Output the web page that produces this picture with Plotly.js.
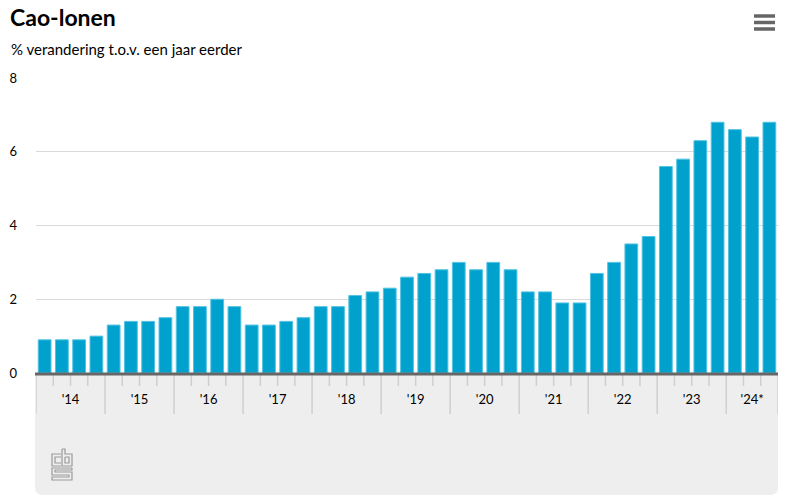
<!DOCTYPE html>
<html>
<head>
<meta charset="utf-8">
<script src="https://cdn.plot.ly/plotly-3.0.1.min.js"></script>
<style>html,body{margin:0;padding:0;background:#fff;}#chart{width:794px;height:499px;}</style>
</head>
<body>
<div id="chart"></div>
<script>
// Data
const years = ["'14", "'15", "'16", "'17", "'18", "'19", "'20", "'21", "'22", "'23", "'24*"];
const quartersPerYear = [4, 4, 4, 4, 4, 4, 4, 4, 4, 4, 3];
const values = [
  0.9, 0.9, 0.9, 1.0,
  1.3, 1.4, 1.4, 1.5,
  1.8, 1.8, 2.0, 1.8,
  1.3, 1.3, 1.4, 1.5,
  1.8, 1.8, 2.1, 2.2,
  2.3, 2.6, 2.7, 2.8,
  3.0, 2.8, 3.0, 2.8,
  2.2, 2.2, 1.9, 1.9,
  2.7, 3.0, 3.5, 3.7,
  5.6, 5.8, 6.3, 6.8,
  6.6, 6.4, 6.8
];
const yTicks = [0, 2, 4, 6, 8];

const W = 794, H = 499;
const M = {l: 36, r: 16, t: 78, b: 126};
const PW = W - M.l - M.r, PH = H - M.t - M.b;
const px = x => (x - M.l) / PW;          // pixel x -> paper
const py = y => (H - M.b - y) / PH;      // pixel y -> paper

const n = values.length;
const xs = values.map((_, i) => i);

// year centres and boundaries
const yearCenters = [], yearBounds = [-0.5];
let idx = 0;
quartersPerYear.forEach(q => {
  yearCenters.push(idx + (q - 1) / 2);
  idx += q;
  yearBounds.push(idx - 0.5);
});

const shapes = [];
// gray footer box with rounded bottom corners (paper coords)
const r = 8;
const bx0 = 35, bx1 = 778, by0 = 374, by1 = 495;
const rx = r / PW, ry = r / PH;
shapes.push({
  type: 'path', xref: 'paper', yref: 'paper', layer: 'below',
  path: `M${px(bx0)},${py(by0)} L${px(bx1)},${py(by0)} L${px(bx1)},${py(by1) + ry} Q${px(bx1)},${py(by1)} ${px(bx1) - rx},${py(by1)} L${px(bx0) + rx},${py(by1)} Q${px(bx0)},${py(by1)} ${px(bx0)},${py(by1) + ry} Z`,
  fillcolor: '#eeeeee', line: {width: 0}
});
// year separators
yearBounds.forEach(b => {
  shapes.push({type: 'line', xref: 'x', yref: 'paper', x0: b, x1: b, y0: py(375), y1: py(414),
    line: {color: '#cfcfcf', width: 1.5}});
});
// quarter ticks
for (let i = 0; i < n - 1; i++) {
  const b = i + 0.5;
  if (yearBounds.includes(b)) continue;
  shapes.push({type: 'line', xref: 'x', yref: 'paper', x0: b, x1: b, y0: py(375), y1: py(386),
    line: {color: '#cfcfcf', width: 1.5}});
}
// axis line
shapes.push({type: 'line', xref: 'paper', yref: 'paper', x0: px(35), x1: px(778), y0: py(374), y1: py(374),
  line: {color: '#666666', width: 3}});
// hamburger menu icon
[16, 22.5, 29].forEach(yy => {
  shapes.push({type: 'line', xref: 'paper', yref: 'paper', x0: px(754), x1: px(775), y0: py(yy), y1: py(yy),
    line: {color: '#666666', width: 3.5}});
});
// cbs logo (simplified outline)
const logoPaths = [
  // c
  [[61,454],[52,454],[52,466],[61,466]],
  [[61,457],[55,457],[55,463],[61,463]],
  // b
  [[62,449],[65,449],[65,454],[72,454],[72,466],[62,466],[62,449]],
  [[65,457],[69,457],[69,463],[65,463],[65,457]],
  // S
  [[72,468],[52,468],[52,475],[69,475],[69,477],[52,477],[52,480],[72,480],[72,472],[55,472],[55,470],[72,470],[72,468]]
];
logoPaths.forEach(pts => {
  const d = pts.map((p, k) => (k ? 'L' : 'M') + px(p[0]) + ',' + py(p[1])).join(' ');
  shapes.push({type: 'path', xref: 'paper', yref: 'paper', path: d, line: {color: '#9a9a9a', width: 1.2}});
});

const FONT = 'Lato, "Noto Sans", sans-serif';

const trace = {
  type: 'bar', x: xs, y: values,
  marker: {color: '#00a2cd', line: {color: '#52c2e3', width: 1}},
  hoverinfo: 'skip'
};

const layout = {
  width: W, height: H,
  margin: M,
  paper_bgcolor: '#ffffff', plot_bgcolor: '#ffffff',
  font: {family: FONT, color: '#000000', size: 13},
  title: {text: 'Cao-lonen', font: {family: FONT, size: 23, color: '#000', weight: 'bold'},
    xref: 'container', yref: 'container', x: 10 / W, xanchor: 'left', y: 1 - 18 / H, yanchor: 'middle'},
  annotations: [{
    text: '% verandering t.o.v. een jaar eerder', xref: 'paper', yref: 'paper',
    x: px(9), y: py(49), xanchor: 'left', yanchor: 'middle', showarrow: false,
    font: {family: FONT, size: 15, color: '#000'}
  }],
  bargap: 0.26,
  showlegend: false,
  xaxis: {
    range: [-0.5, n - 0.5], tickvals: yearCenters, ticktext: years,
    ticks: '', showgrid: false, zeroline: false, showline: false,
    tickfont: {family: FONT, size: 13, color: '#000'}, ticklabelstandoff: 17, fixedrange: true
  },
  yaxis: {
    range: [0, 8], tickvals: yTicks, ticks: '', showgrid: true, gridcolor: '#d9d9d9', gridwidth: 1,
    zeroline: false, showline: false,
    tickfont: {family: FONT, size: 13, color: '#000'}, ticklabelstandoff: 18, fixedrange: true
  },
  shapes: shapes
};

Plotly.newPlot('chart', [trace], layout, {displayModeBar: false, staticPlot: true});
</script>
</body>
</html>
